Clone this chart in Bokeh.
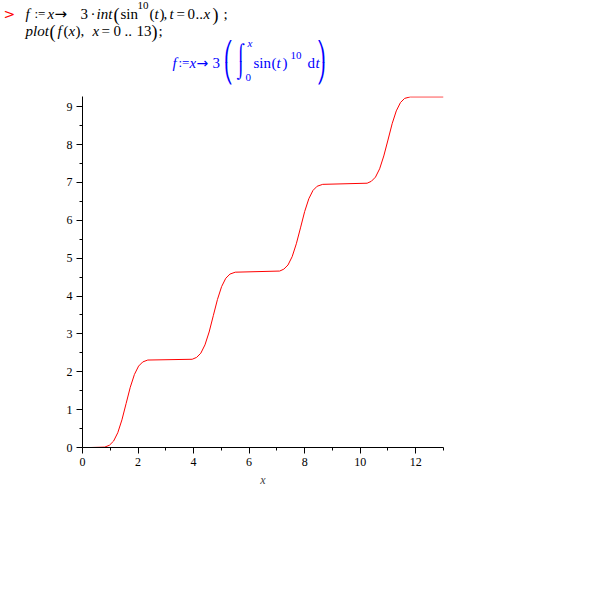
from bokeh.plotting import figure
from bokeh.models import Range1d, FixedTicker, Label
from bokeh.layouts import column
from bokeh.embed import file_html
from bokeh.resources import INLINE

# ---- data ----
x_vals = [0.3, 0.8, 0.97, 1.12, 1.27, 1.42, 1.57, 1.72, 1.87, 2.02, 2.17, 2.35,
          3.95, 4.11, 4.26, 4.41, 4.56, 4.71, 4.86, 5.01, 5.16, 5.31, 5.5,
          7.1, 7.25, 7.4, 7.55, 7.7, 7.85, 8.0, 8.15, 8.3, 8.45, 8.65,
          10.25, 10.4, 10.55, 10.7, 10.85, 11.0, 11.15, 11.3, 11.45, 11.6, 11.8, 13.0]
y_vals = [0.0, 0.01, 0.06, 0.17, 0.39, 0.73, 1.16, 1.59, 1.93, 2.15, 2.26, 2.31,
          2.33, 2.38, 2.49, 2.71, 3.05, 3.48, 3.91, 4.25, 4.47, 4.58, 4.63,
          4.66, 4.71, 4.82, 5.04, 5.38, 5.80, 6.23, 6.57, 6.79, 6.90, 6.95,
          6.98, 7.03, 7.14, 7.36, 7.70, 8.12, 8.55, 8.89, 9.11, 9.22, 9.26, 9.26]
x_major = [0, 2, 4, 6, 8, 10, 12]
x_minor = [1, 3, 5, 7, 9, 11, 13]
y_major = [0, 1, 2, 3, 4, 5, 6, 7, 8, 9]
y_minor = [0.5, 1.5, 2.5, 3.5, 4.5, 5.5, 6.5, 7.5, 8.5]
x_title = "x"

SERIF = "Liberation Serif"
SANS = "DejaVu Sans"
HEAD_H = 94

# ---- header (Maple input / output) ----
h = figure(width=480, height=HEAD_H, x_range=Range1d(0, 480), y_range=Range1d(HEAD_H, 0),
           output_backend="svg", toolbar_location=None,
           x_axis_type=None, y_axis_type=None, min_border=0)
h.grid.visible = False
h.outline_line_color = None
try:
    h.frame_align = False
except Exception:
    pass


def put(x, y, text, color="black", style="normal", size=15, font=SERIF):
    h.add_layout(Label(x=x, y=y, text=text, text_color=color, text_font=font,
                       text_font_style=style, text_font_size=f"{size}px",
                       text_baseline="alphabetic", text_align="left"))


L1, L2, L3 = 13, 30, 62
# line 1
put(3, L1, ">", color="red", font=SANS, size=14)
put(25, L1, "f", style="italic")
put(34, L1, ":=", size=13)
put(47, L1, "x", style="italic")
put(54, L1, "\u2192", font=SANS, size=15)
put(80, L1, "3")
put(90, L1, "\u00b7")
put(96, L1, "int", style="italic")
put(113, L1 + 1, "(", size=18)
put(120, L1, "sin")
put(137, L1 - 8, "10", size=11)
put(149, L1, "(")
put(154, L1, "t", style="italic")
put(159, L1, ")")
put(163, L1, ",")
put(169, L1, "t", style="italic")
put(176, L1, "=")
put(187, L1, "0")
put(195, L1, "..")
put(203, L1, "x", style="italic")
put(212, L1 + 1, ")", size=18)
put(223, L1, ";")
# line 2
put(25, L2, "plot", style="italic")
put(49, L2 + 1, "(", size=18)
put(57, L2, "f", style="italic")
put(63, L2, "(")
put(68, L2, "x", style="italic")
put(75, L2, ")")
put(80, L2, ",")
put(92, L2, "x", style="italic")
put(101, L2, "=")
put(113, L2, "0")
put(124, L2, "..")
put(136, L2, "13")
put(151, L2 + 1, ")", size=18)
put(158, L2, ";")
# line 3 (output, blue)
B = "#0000ff"
put(172, L3, "f", color=B, style="italic")
put(178, L3, ":=", color=B, size=13)
put(189, L3, "x", color=B, style="italic")
put(196, L3, "\u2192", color=B, font=SANS, size=14)
put(212, L3, "3", color=B)
# tall parentheses and integral built from stacking pieces
put(223, L3 - 12, "\u239b", color=B, font=SANS, size=19)
put(223, L3 + 10, "\u239d", color=B, font=SANS, size=19)
put(236, L3 - 10, "\u2320", color=B, font=SANS, size=16)
put(236, L3 + 8, "\u2321", color=B, font=SANS, size=16)
put(247, L3 - 20, "x", color=B, style="italic", size=11)
put(245, L3 + 15, "0", color=B, size=11)
put(253, L3, "sin", color=B)
put(271, L3, "(", color=B)
put(276, L3, "t", color=B, style="italic")
put(282, L3, ")", color=B)
put(290, L3 - 7, "10", color=B, size=11)
put(307, L3, "d", color=B)
put(315, L3, "t", color=B, style="italic")
put(316, L3 - 12, "\u239e", color=B, font=SANS, size=19)
put(316, L3 + 10, "\u23a0", color=B, font=SANS, size=19)

# ---- plot ----
LEFT, TOP, FW, FH = 82, 2, 361, 351
p = figure(width=LEFT + FW + 37, height=TOP + FH + 55,
           x_range=Range1d(0, 13), y_range=Range1d(0, 9.27),
           output_backend="svg", toolbar_location=None,
           min_border_left=LEFT, min_border_right=37, min_border_top=TOP, min_border_bottom=55)
try:
    p.frame_align = False
except Exception:
    pass
p.grid.visible = False
p.outline_line_color = None
p.line(x_vals, y_vals, line_color="red", line_width=1)

p.xaxis.ticker = FixedTicker(ticks=x_major, minor_ticks=x_minor)
p.yaxis.ticker = FixedTicker(ticks=y_major, minor_ticks=y_minor)
for ax in (p.xaxis, p.yaxis):
    ax.axis_line_color = "black"
    ax.major_tick_line_color = "black"
    ax.minor_tick_line_color = "black"
    ax.major_tick_in = 0
    ax.major_tick_out = 6
    ax.minor_tick_in = 0
    ax.minor_tick_out = 3
    ax.major_label_text_font = SERIF
    ax.major_label_text_font_size = "12px"
    ax.major_label_text_color = "black"
    ax.major_label_standoff = 4
p.xaxis.axis_label = x_title
p.xaxis.axis_label_text_font = SERIF
p.xaxis.axis_label_text_font_style = "italic"
p.xaxis.axis_label_text_font_size = "12px"
p.xaxis.axis_label_standoff = 4

layout = column(h, p, spacing=0)
open("out.html", "w").write(file_html(layout, INLINE))
